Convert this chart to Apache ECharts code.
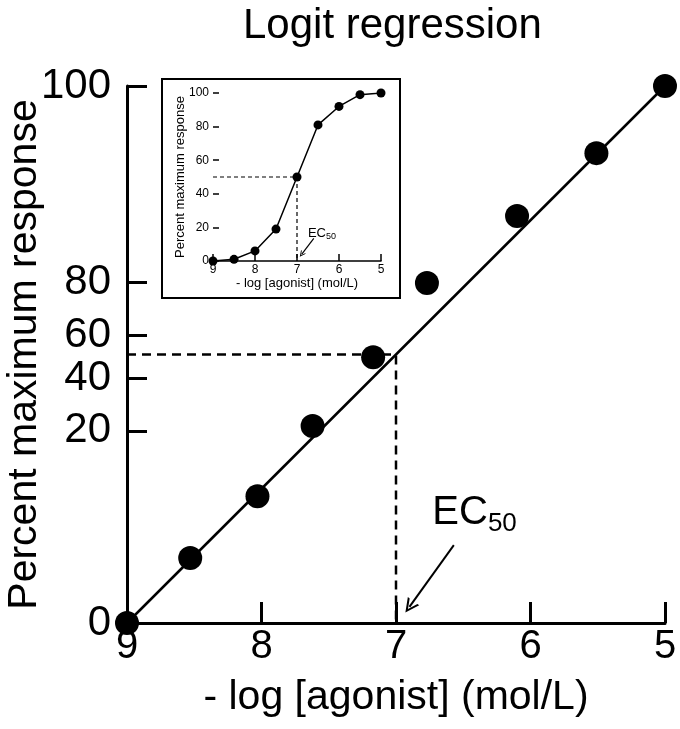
<!DOCTYPE html>
<html>
<head>
<meta charset="utf-8">
<script src="https://cdn.jsdelivr.net/npm/echarts@6/dist/echarts.min.js"></script>
<style>
  html, body { margin: 0; padding: 0; background: #fff; }
  #chart { width: 680px; height: 729px; }
</style>
</head>
<body>
<div id="chart"></div>
<script>
// 主图：logit 变换后的响应（纵轴是显示位置 0-100，刻度按 logit 排布）
const yTickPos = [0, 35.8, 45.6, 53.6, 63.5, 100];
const yTickLabels = ['0', '20', '40', '60', '80', '100'];
const logitPoints = [[9, 0], [8.53, 12.1], [8.03, 23.6], [7.62, 36.7], [7.17, 49.5],
  [6.77, 63.3], [6.1, 75.8], [5.51, 87.5], [5, 100]];
const fitLine = [[9, 0], [5, 100]];
const ec50 = 7;
const halfResponse = 50;
const ecLabelMain = [6.73, 20.5];
const ecArrowMain = [[6.57, 14.5], [6.9, 3.0]];

// 小图：原始剂量-反应曲线
const insetPoints = [[9, 0], [8.5, 1], [8, 6], [7.5, 19], [7, 50], [6.5, 81], [6, 92], [5.5, 99], [5, 100]];
const ecLabelInset = [6.74, 16.7];
const ecArrowInset = [[6.6, 13.5], [6.89, 4]];

const FONT = 'Liberation Sans';
const openArrow = 'path://M5,0 L10,10 L8.4,10 L5,3.2 L1.6,10 L0,10Z';

function ecLabel(point, big, small, lh, gi) {
  return {
    type: 'scatter', xAxisIndex: gi, yAxisIndex: gi, silent: true,
    symbolSize: 0, itemStyle: { color: '#000' },
    data: [point],
    label: {
      show: true, position: 'right', distance: 0, color: '#000', opacity: 1,
      formatter: '{a|EC}{b|50}',
      rich: {
        a: { fontSize: big, lineHeight: lh, verticalAlign: 'middle', color: '#000', fontFamily: FONT },
        b: { fontSize: small, lineHeight: small, verticalAlign: 'bottom', color: '#000', fontFamily: FONT }
      }
    }
  };
}

function arrow(coords, w, size, gi) {
  return {
    type: 'lines', coordinateSystem: 'cartesian2d', xAxisIndex: gi, yAxisIndex: gi, silent: true,
    symbol: ['none', openArrow], symbolSize: size,
    lineStyle: { color: '#000', width: w, opacity: 1 },
    itemStyle: { color: '#000' },
    data: [{ coords: coords }]
  };
}

const chart = echarts.init(document.getElementById('chart'));
const option = {
  animation: false,
  title: {
    text: 'Logit regression', left: 243, top: 5, padding: 0,
    textStyle: { fontFamily: FONT, fontSize: 42, fontWeight: 'normal', color: '#000' }
  },
  graphic: [{
    type: 'rect', left: 161, top: 78, z: 0,
    shape: { width: 238, height: 219 },
    style: { fill: '#fff', stroke: '#000', lineWidth: 2 }
  }],
  grid: [
    { left: 127, right: 15, top: 86, bottom: 106, outerBoundsMode: 'none', containLabel: false },
    { left: 213, right: 299, top: 93, bottom: 468, z: 5, outerBoundsMode: 'none', containLabel: false }
  ],
  xAxis: [{
    gridIndex: 0, type: 'value', min: 5, max: 9, interval: 1, inverse: true,
    name: '- log [agonist] (mol/L)', nameLocation: 'middle', nameGap: 54, nameMoveOverlap: false,
    nameTextStyle: { fontFamily: FONT, fontSize: 41, color: '#000' },
    axisLine: { lineStyle: { color: '#000', width: 3 } },
    axisTick: { inside: true, length: 21, lineStyle: { color: '#000', width: 3 } },
    axisLabel: { fontFamily: FONT, fontSize: 40, color: '#000', margin: 4 },
    splitLine: { show: false }
  }, {
    gridIndex: 1, type: 'value', min: 5, max: 9, interval: 1, inverse: true,
    name: '- log [agonist] (mol/L)', nameLocation: 'middle', nameGap: 16, nameMoveOverlap: false,
    nameTextStyle: { fontFamily: FONT, fontSize: 13, color: '#000' },
    axisLine: { lineStyle: { color: '#000', width: 1.5 } },
    axisTick: { inside: true, length: 7, lineStyle: { color: '#000', width: 1.5 } },
    axisLabel: { fontFamily: FONT, fontSize: 12, color: '#000', margin: 3 },
    splitLine: { show: false }
  }],
  yAxis: [{
    gridIndex: 0, type: 'value', min: 0, max: 100,
    name: 'Percent maximum response', nameLocation: 'middle', nameGap: 82, nameRotate: 90,
    nameMoveOverlap: false,
    nameTextStyle: { fontFamily: FONT, fontSize: 41, color: '#000' },
    axisLine: { show: true, lineStyle: { color: '#000', width: 3 } },
    axisTick: { show: true, inside: true, length: 20, customValues: yTickPos, lineStyle: { color: '#000', width: 3 } },
    axisLabel: {
      fontFamily: FONT, fontSize: 42, color: '#000', margin: 16, customValues: yTickPos,
      formatter: v => {
        const i = yTickPos.findIndex(p => Math.abs(p - v) < 0.01);
        return i < 0 ? '' : yTickLabels[i];
      }
    },
    splitLine: { show: false }
  }, {
    gridIndex: 1, type: 'value', min: 0, max: 100, interval: 20,
    name: 'Percent maximum response', nameLocation: 'middle', nameGap: 26, nameRotate: 90,
    nameMoveOverlap: false,
    nameTextStyle: { fontFamily: FONT, fontSize: 13, color: '#000' },
    axisLine: { show: false },
    axisTick: { show: true, inside: true, length: 6, lineStyle: { color: '#000', width: 1.5 } },
    axisLabel: { fontFamily: FONT, fontSize: 12, color: '#000', margin: 4 },
    splitLine: { show: false }
  }],
  series: [
    {
      type: 'line', xAxisIndex: 0, yAxisIndex: 0, silent: true, symbol: 'none',
      data: fitLine, lineStyle: { color: '#000', width: 2.5 }
    },
    {
      type: 'line', xAxisIndex: 0, yAxisIndex: 0, silent: true, symbol: 'none',
      data: [[9, halfResponse], [ec50, halfResponse], [ec50, 0]],
      lineStyle: { color: '#000', width: 2.5, type: [9, 6] }
    },
    {
      type: 'scatter', xAxisIndex: 0, yAxisIndex: 0, silent: true, symbolSize: 24,
      data: logitPoints, itemStyle: { color: '#000', opacity: 1 }, z: 4
    },
    ecLabel(ecLabelMain, 40, 26, 48, 0),
    arrow(ecArrowMain, 2, [12, 14], 0),
    {
      type: 'line', xAxisIndex: 1, yAxisIndex: 1, silent: true,
      symbol: 'circle', symbolSize: 9, data: insetPoints, z: 6,
      lineStyle: { color: '#000', width: 1.5 }, itemStyle: { color: '#000' }
    },
    {
      type: 'line', xAxisIndex: 1, yAxisIndex: 1, silent: true, symbol: 'none', z: 6,
      data: [[9, halfResponse], [ec50, halfResponse], [ec50, 0]],
      lineStyle: { color: '#000', width: 1.2, type: [4, 3] }
    },
    Object.assign(ecLabel(ecLabelInset, 13, 9, 16, 1), { z: 6 }),
    Object.assign(arrow(ecArrowInset, 1.2, [5, 6], 1), { z: 6 })
  ]
};
chart.setOption(option);
</script>
</body>
</html>
